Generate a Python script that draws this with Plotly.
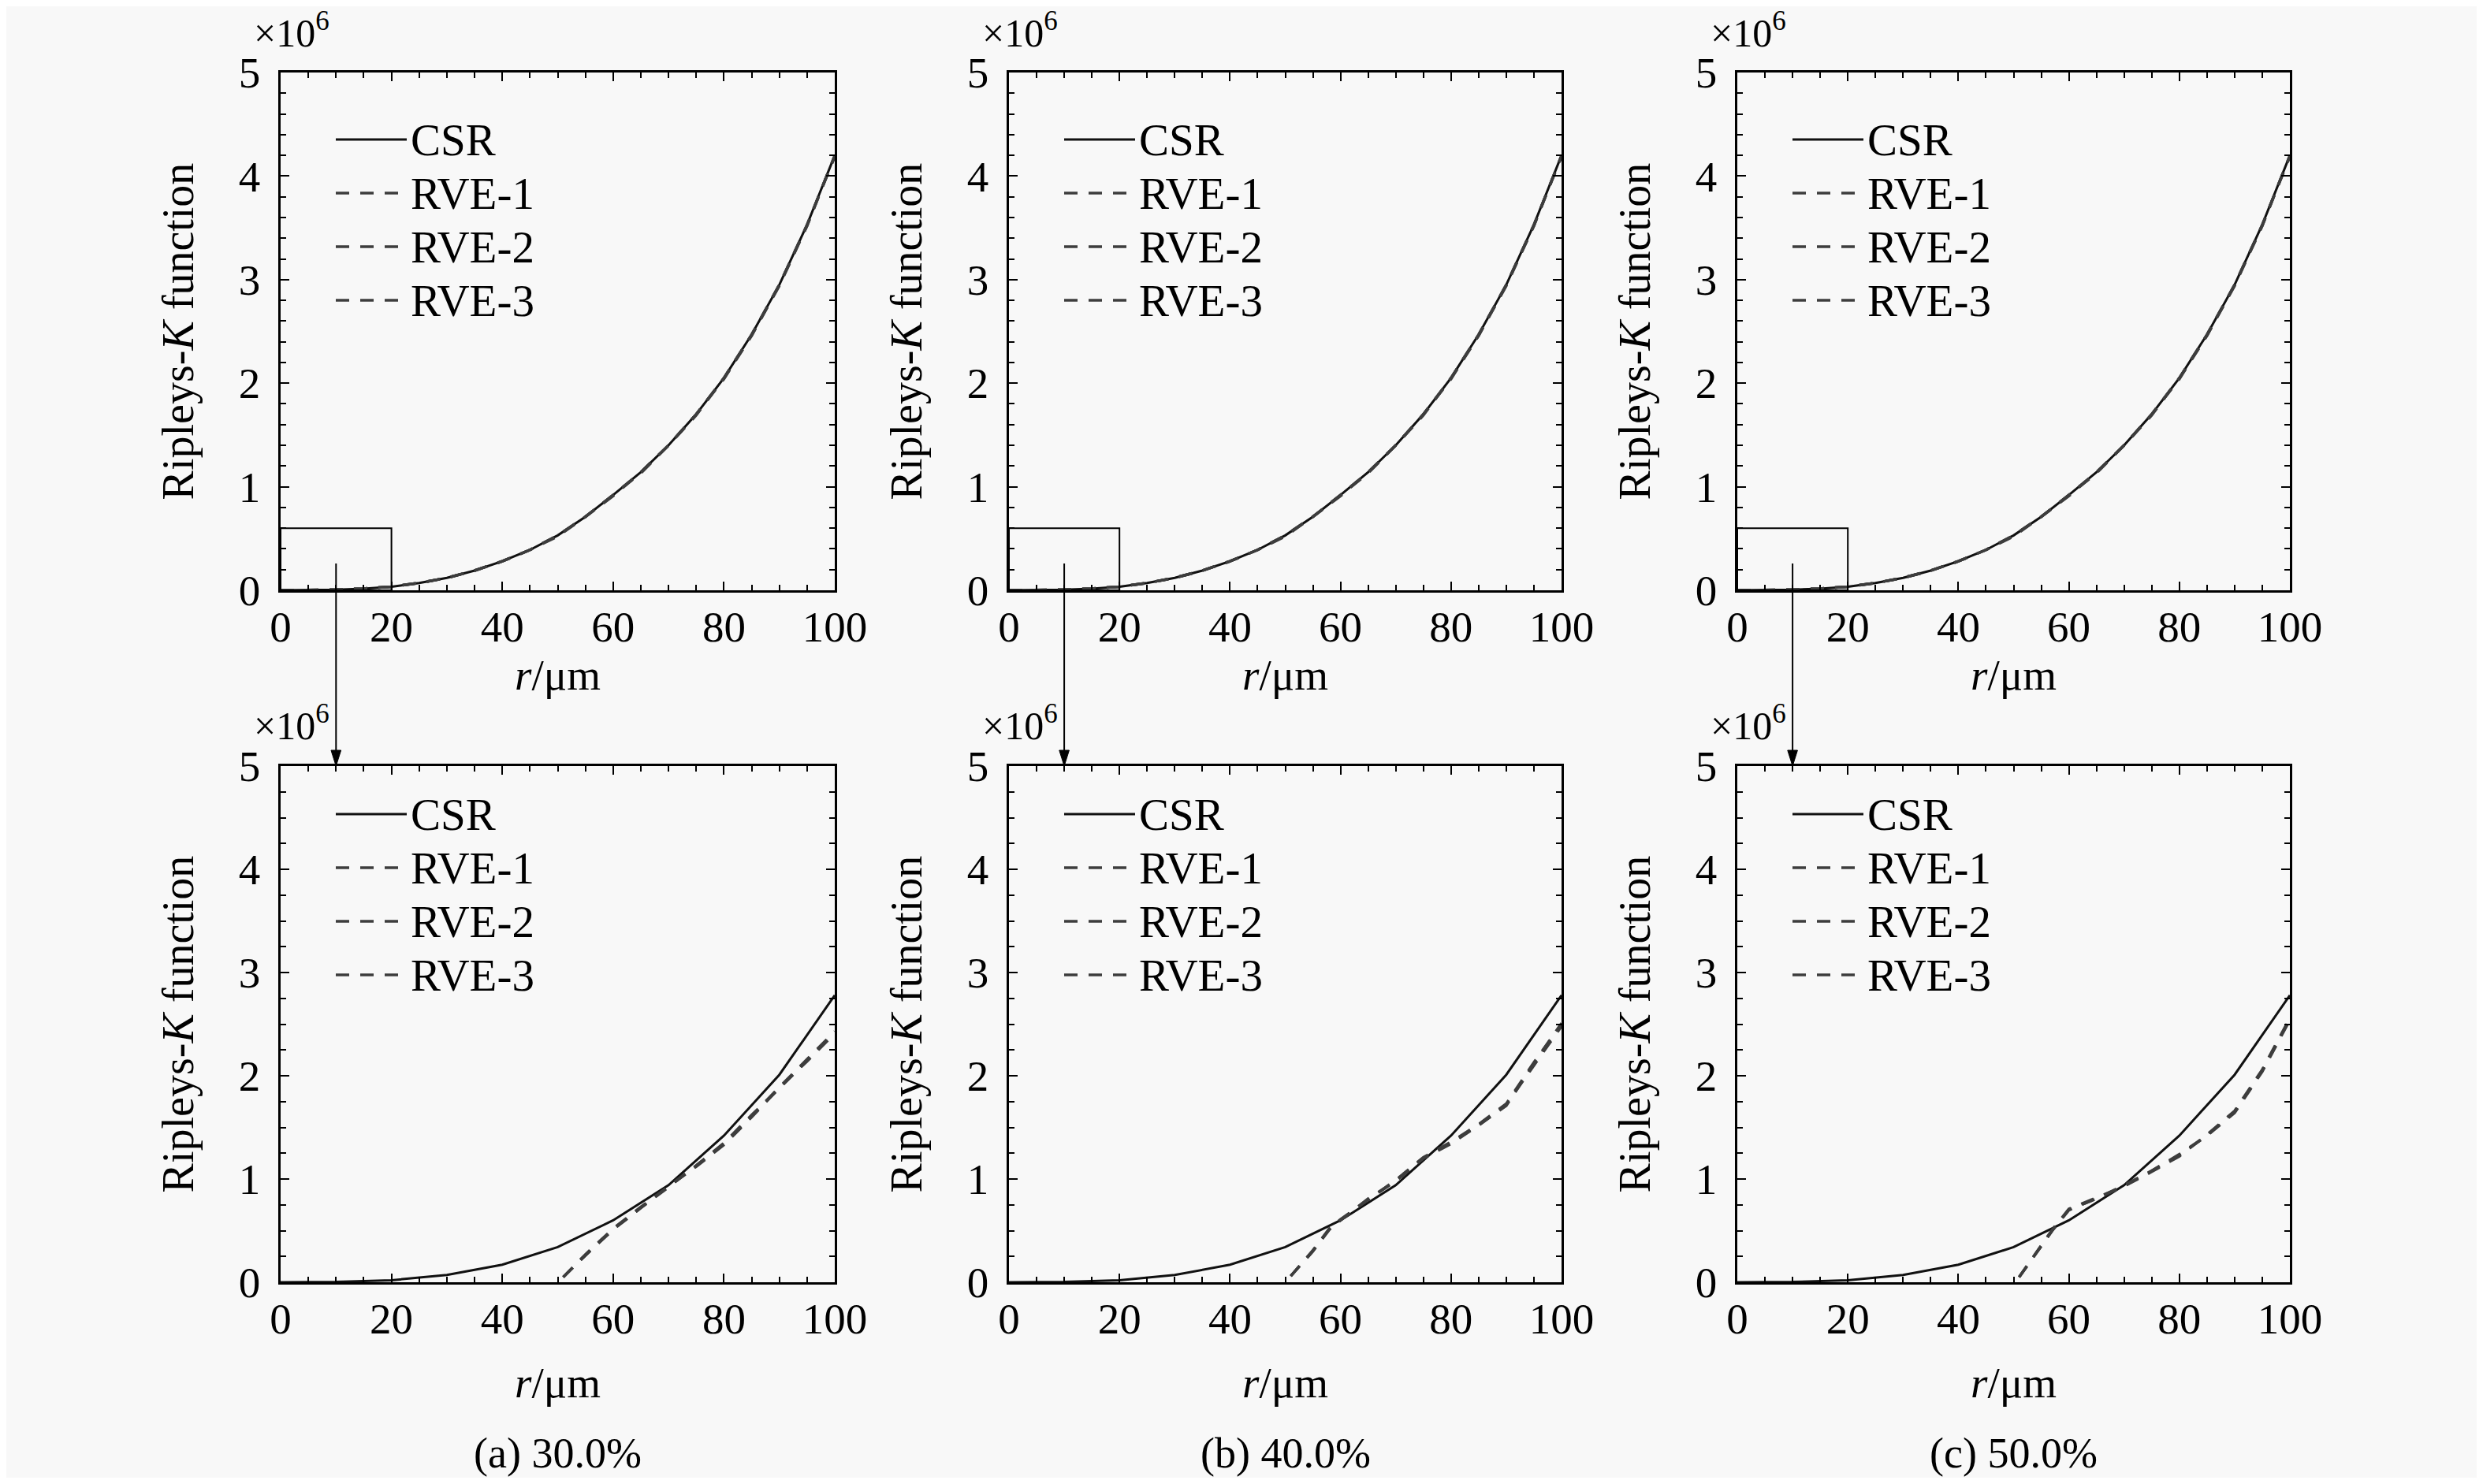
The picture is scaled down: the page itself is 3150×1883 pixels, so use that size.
import plotly.graph_objects as go

# ---------------- data (values in units of 10^6) ----------------
r_top = [0, 5, 10, 15, 20, 25, 30, 35, 40, 45, 50, 55, 60, 65, 70, 75, 80, 85, 90, 95, 100]
csr_top = [0, 0.001, 0.006, 0.016, 0.035, 0.07, 0.12, 0.19, 0.28, 0.39, 0.53,
           0.71, 0.92, 1.14, 1.40, 1.70, 2.05, 2.47, 2.95, 3.53, 4.20]
rve1_top = [0, 0.001, 0.006, 0.016, 0.035, 0.07, 0.12, 0.19, 0.28, 0.39, 0.53,
            0.71, 0.92, 1.14, 1.40, 1.70, 2.04, 2.46, 2.94, 3.52, 4.19]
rve2_top = [0, 0.001, 0.006, 0.016, 0.035, 0.07, 0.12, 0.19, 0.28, 0.39, 0.53,
            0.71, 0.91, 1.14, 1.40, 1.69, 2.05, 2.47, 2.95, 3.53, 4.19]
rve3_top = [0, 0.001, 0.006, 0.016, 0.035, 0.07, 0.12, 0.19, 0.28, 0.39, 0.52,
            0.71, 0.92, 1.13, 1.40, 1.70, 2.05, 2.46, 2.95, 3.52, 4.20]

r_csr_bot = [0, 10, 20, 30, 40, 50, 60, 70, 80, 90, 100]
csr_bot = [0, 0.003, 0.02, 0.07, 0.17, 0.34, 0.60, 0.94, 1.42, 2.01, 2.78]

r_rve_a = [51, 55, 60, 65, 70, 75, 80, 85, 90, 95, 100]
rve1_a = [0.05, 0.27, 0.52, 0.73, 0.93, 1.12, 1.33, 1.60, 1.88, 2.15, 2.42]
rve2_a = [0.05, 0.26, 0.51, 0.72, 0.93, 1.13, 1.34, 1.61, 1.89, 2.16, 2.43]
rve3_a = [0.05, 0.26, 0.51, 0.72, 0.92, 1.13, 1.35, 1.62, 1.88, 2.14, 2.41]

r_rve_b = [51, 55, 58, 60, 65, 70, 75, 80, 85, 90, 95, 100]
rve1_b = [0.06, 0.30, 0.52, 0.61, 0.80, 0.98, 1.20, 1.35, 1.52, 1.72, 2.10, 2.48]
rve2_b = [0.06, 0.30, 0.51, 0.60, 0.80, 0.99, 1.21, 1.36, 1.53, 1.73, 2.13, 2.50]
rve3_b = [0.06, 0.31, 0.52, 0.60, 0.81, 0.98, 1.20, 1.34, 1.52, 1.71, 2.12, 2.51]

r_rve_c = [51, 55, 57, 60, 65, 70, 75, 80, 85, 90, 95, 100]
rve1_c = [0.05, 0.35, 0.50, 0.70, 0.81, 0.93, 1.08, 1.23, 1.42, 1.65, 2.05, 2.55]
rve2_c = [0.05, 0.36, 0.51, 0.71, 0.82, 0.93, 1.07, 1.22, 1.43, 1.66, 2.06, 2.56]
rve3_c = [0.05, 0.35, 0.50, 0.70, 0.81, 0.94, 1.08, 1.24, 1.42, 1.64, 2.04, 2.54]

series_names = ["CSR", "RVE-1", "RVE-2", "RVE-3"]
captions = ["(a) 30.0%", "(b) 40.0%", "(c) 50.0%"]
x_ticks = [0, 20, 40, 60, 80, 100]
y_ticks = [0, 1, 2, 3, 4, 5]

# ---------------- layout geometry ----------------
OFF = 8                     # page body margin
W, H = 3150 - 2 * OFF, 1883 - 2 * OFF
FONT = "Liberation Serif, Times New Roman, serif"
BG = "#f8f8f8"
cols_px = [(356, 1059), (1280, 1981), (2204, 2905)]
rows_px = [(92, 749), (972, 1627)]


def xd(px):
    return (px - OFF) / W


def yd(py):
    return 1 - (py - OFF) / H


def leg_name(s):
    return f"<span style='font-size:57px'>{s}</span>"


top_sets = [(r_top, rve1_top, rve2_top, rve3_top)] * 3
bot_sets = [(r_rve_a, rve1_a, rve2_a, rve3_a),
            (r_rve_b, rve1_b, rve2_b, rve3_b),
            (r_rve_c, rve1_c, rve2_c, rve3_c)]

fig = go.Figure()
layout = dict(width=W, height=H, autosize=False, margin=dict(l=0, r=0, t=0, b=0, pad=0),
              paper_bgcolor=BG, plot_bgcolor=BG,
              font=dict(family=FONT, size=52, color="black"),
              showlegend=True)

dash_color = "#3d3d3d"
annotations = []
shapes = []

idx = 0
for row in range(2):
    for col in range(3):
        idx += 1
        sfx = "" if idx == 1 else str(idx)
        xa, ya = "x" + sfx, "y" + sfx
        leg = "legend" + sfx
        if row == 0:
            rr, a1, a2, a3 = top_sets[col]
            xc, yc = r_top, csr_top
        else:
            rr, a1, a2, a3 = bot_sets[col]
            xc, yc = r_csr_bot, csr_bot
        fig.add_trace(go.Scatter(x=xc, y=yc, mode="lines", name=leg_name(series_names[0]),
                                 line=dict(color="#111111", width=3),
                                 xaxis=xa, yaxis=ya, legend=leg))
        for k, ys in enumerate([a1, a2, a3]):
            fig.add_trace(go.Scatter(x=rr, y=ys, mode="lines", name=leg_name(series_names[k + 1]),
                                     line=dict(color=dash_color, width=3.5, dash="17px,14px"),
                                     xaxis=xa, yaxis=ya, legend=leg))
        x0, x1 = cols_px[col]
        y0, y1 = rows_px[row]
        axis_common = dict(showline=True, linecolor="black", linewidth=2.5, mirror="allticks",
                           ticks="inside", ticklen=11, tickwidth=2, tickcolor="black",
                           showgrid=False, zeroline=False, automargin=False,
                           tickfont=dict(family=FONT, size=55, color="black"))
        layout["xaxis" + sfx] = dict(axis_common, domain=[xd(x0), xd(x1)], anchor=ya,
                                     range=[0, 100], tickvals=x_ticks,
                                     ticklabelstandoff=-4,
                                     minor=dict(dtick=5, ticks="inside", ticklen=7, tickwidth=2,
                                                tickcolor="black", showgrid=False),
                                     title=dict(text="<i>r</i>/μm",
                                                standoff=12 if row == 0 else 32,
                                                font=dict(family=FONT, size=55)))
        layout["yaxis" + sfx] = dict(axis_common, domain=[yd(y1), yd(y0)], anchor=xa,
                                     range=[0, 5], tickvals=y_ticks,
                                     ticklabelstandoff=12,
                                     minor=dict(dtick=0.2 if row == 0 else 0.25, ticks="inside",
                                                ticklen=7, tickwidth=2, tickcolor="black",
                                                showgrid=False),
                                     title=dict(text="Ripleys-<i>K</i> function", standoff=40,
                                                font=dict(family=FONT, size=56)))
        legend_top = 138 if row == 0 else 994
        layout[leg] = dict(x=xd(x0 + 65), y=yd(legend_top), xanchor="left", yanchor="top",
                           bgcolor="rgba(0,0,0,0)", borderwidth=0,
                           font=dict(family=FONT, size=50, color="black"),
                           tracegroupgap=0, itemwidth=90)
        # x10^6 multiplier label
        annotations.append(dict(text="×10<sup>6</sup>", xref="paper", yref="paper",
                                x=xd(x0 - 36), y=yd(y0 - 54), xanchor="left", yanchor="middle",
                                showarrow=False, font=dict(family=FONT, size=50, color="black")))
        if row == 0:
            shapes.append(dict(type="rect", xref=xa, yref=ya, x0=0, x1=20, y0=0, y1=0.6,
                               line=dict(color="black", width=2)))
        else:
            # arrow from the zoom box in the upper panel down to the lower panel
            shapes.append(dict(type="line", xref=xa, yref="paper", x0=10, x1=10,
                               y0=yd(715), y1=yd(y0 - 14), line=dict(color="black", width=2)))
            shapes.append(dict(type="path", xref=xa, yref="paper",
                               path=f"M 9.1 {yd(y0 - 20)} L 10.9 {yd(y0 - 20)} L 10 {yd(y0)} Z",
                               fillcolor="black", line=dict(color="black", width=1)))
            annotations.append(dict(text=captions[col], xref="paper", yref="paper",
                                    x=xd((x0 + x1) / 2), y=yd(1844), xanchor="center",
                                    yanchor="middle", showarrow=False,
                                    font=dict(family=FONT, size=54, color="black")))

layout["annotations"] = annotations
layout["shapes"] = shapes
fig.update_layout(**layout)
fig.write_html("out.html")
